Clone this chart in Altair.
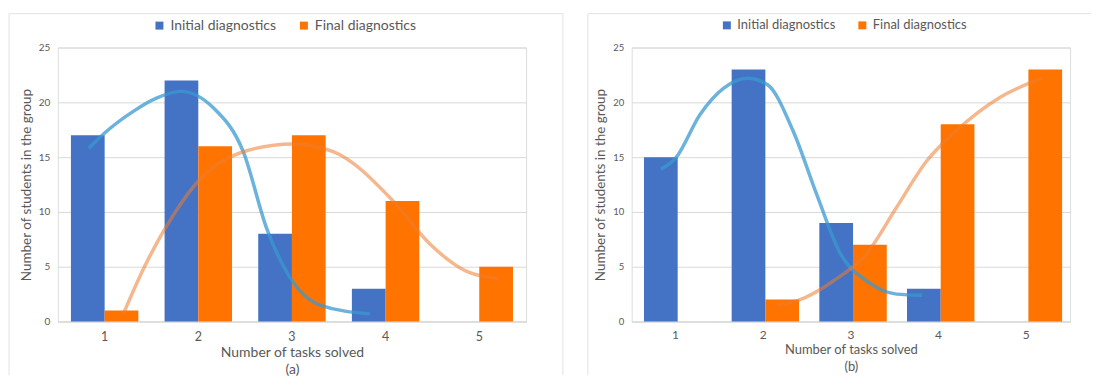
import altair as alt
import pandas as pd

categories = [1, 2, 3, 4, 5]
series_names = ["Initial diagnostics", "Final diagnostics"]

a_initial = [17, 22, 8, 3, 0]
a_final = [1, 16, 17, 11, 5]
b_initial = [15, 23, 9, 3, 0]
b_final = [0, 2, 7, 18, 23]

# smoothed trend curves (x in task units)
a_init_cx = [0.83, 1.0, 1.31, 1.56, 1.81, 2.16, 2.48, 2.73, 2.98, 3.30, 3.83]
a_init_cy = [15.8, 17.2, 19.2, 20.4, 21.0, 19.5, 15.5, 8.5, 4.0, 1.5, 0.7]
a_fin_cx = [1.2, 1.42, 1.74, 2.02, 2.45, 3.01, 3.44, 4.08, 4.47, 4.86, 5.21]
a_fin_cy = [0.7, 4.9, 9.8, 13.0, 15.4, 16.2, 15.5, 11.0, 7.1, 4.6, 3.9]
b_init_cx = [0.83, 1.0, 1.28, 1.55, 1.82, 2.05, 2.34, 2.61, 2.88, 3.18, 3.52, 3.81]
b_init_cy = [13.9, 14.9, 18.9, 21.3, 22.2, 21.6, 17.4, 11.6, 6.2, 3.7, 2.5, 2.4]
b_fin_cx = [2.16, 2.39, 2.80, 3.18, 3.52, 3.86, 4.20, 4.69, 5.18]
b_fin_cy = [1.5, 1.9, 3.7, 6.2, 10.4, 14.6, 17.4, 20.4, 22.2]

y_ticks = [0, 5, 10, 15, 20, 25]

BLUE = "#4472C4"
ORANGE = "#FF7300"
TXT = "#595959"
GRID = "#D9D9D9"
FRAME = "#E2E2E2"
FONT = "Lato"
Y_TITLE = "Number of students in the group"


def panel(init, fin, icx, icy, fcx, fcy, caption, W, H, fs, legend_x,
          x_title_pad, frame_left, frame_right, y_lab_fs, x_lab_fs,
          x_lab_pad):
    rows = []
    for c, v in zip(categories, init):
        rows.append({"cat": c, "series": series_names[0], "value": v})
    for c, v in zip(categories, fin):
        rows.append({"cat": c, "series": series_names[1], "value": v})
    df = pd.DataFrame(rows)

    yscale = alt.Scale(domain=[0, 25], nice=False)
    yaxis = alt.Axis(values=y_ticks, domain=False, ticks=False,
                     gridColor=GRID, labelColor=TXT,
                     labelFontSize=y_lab_fs, labelPadding=8,
                     title=Y_TITLE, titleColor=TXT, titleFontSize=13.5,
                     titleFontWeight="normal", titlePadding=5,
                     labelFont=FONT, titleFont=FONT)

    bars = alt.Chart(df).mark_bar().encode(
        x=alt.X("cat:O",
                scale=alt.Scale(paddingInner=0.28, paddingOuter=0.14),
                axis=alt.Axis(title=["Number of tasks solved", caption],
                              labelAngle=0, ticks=False, grid=False,
                              domainColor=GRID, labelColor=TXT,
                              titleColor=TXT, labelFontSize=x_lab_fs,
                              titleFontSize=fs, titleFontWeight="normal",
                              labelPadding=x_lab_pad,
                              titlePadding=x_title_pad,
                              titleLineHeight=17, labelFont=FONT,
                              titleFont=FONT)),
        xOffset=alt.XOffset("series:N", sort=series_names),
        y=alt.Y("value:Q", scale=yscale, axis=yaxis),
        color=alt.Color("series:N", sort=series_names,
                        scale=alt.Scale(domain=series_names,
                                        range=[BLUE, ORANGE]),
                        legend=alt.Legend(title=None, orient="none",
                                          legendX=legend_x, legendY=-29,
                                          direction="horizontal",
                                          symbolType="square",
                                          symbolSize=64,
                                          symbolStrokeWidth=0,
                                          labelFontSize=fs,
                                          labelColor=TXT, labelFont=FONT,
                                          columnPadding=20,
                                          labelOffset=4)),
    )

    ci = pd.DataFrame({"x": icx, "value": icy})
    cf = pd.DataFrame({"x": fcx, "value": fcy})
    xs = alt.Scale(domain=[0.5, 5.5], nice=False, zero=False)
    line_i = alt.Chart(ci).mark_line(
        color="#3A9AD0", opacity=0.75, strokeWidth=3.5,
        interpolate="monotone").encode(
        x=alt.X("x:Q", scale=xs, axis=None),
        y=alt.Y("value:Q", scale=yscale, axis=yaxis))
    line_f = alt.Chart(cf).mark_line(
        color="#ED7D31", opacity=0.55, strokeWidth=3.5,
        interpolate="monotone").encode(
        x=alt.X("x:Q", scale=xs, axis=None),
        y=alt.Y("value:Q", scale=yscale, axis=yaxis))

    one = alt.Data(values=[{"k": 0}])
    top = -34
    bottom = 329
    frame = [
        alt.Chart(one).mark_rule(color=FRAME, strokeWidth=1).encode(
            x=alt.value(frame_left), x2=alt.value(frame_right),
            y=alt.value(top)),
        alt.Chart(one).mark_rule(color=FRAME, strokeWidth=1).encode(
            x=alt.value(frame_left), y=alt.value(top),
            y2=alt.value(bottom)),
    ]
    if caption == "(a)":
        frame.append(
            alt.Chart(one).mark_rule(color=FRAME, strokeWidth=1).encode(
                x=alt.value(frame_right), y=alt.value(top),
                y2=alt.value(bottom)))

    return alt.layer(bars, line_i, line_f, *frame).resolve_scale(
        x="independent").properties(width=W, height=H)


pa = panel(a_initial, a_final, a_init_cx, a_init_cy, a_fin_cx, a_fin_cy,
           "(a)", 470, 275, 14, 95, 3, -49, 507, 10, 12.5, 9)
pb = panel(b_initial, b_final, b_init_cx, b_init_cy, b_fin_cx, b_fin_cy,
           "(b)", 440, 275, 13, 89, 3, -44, 461, 9.5, 12, 8)

chart = alt.hconcat(pa, pb, spacing=23).resolve_scale(
    color="independent").resolve_legend(color="independent").properties(
    padding={"left": 0, "top": 4, "right": 0, "bottom": 0}
).configure_view(stroke=None).configure(font=FONT)

chart.save("out.html", embed_options={"renderer": "svg", "actions": False})
